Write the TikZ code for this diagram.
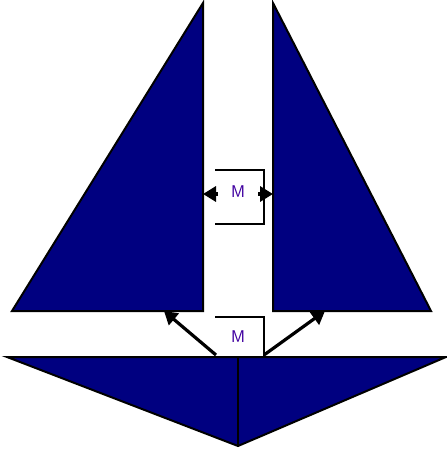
\documentclass[tikz,border=0pt]{standalone}
\usepackage{xcolor}
\usepackage{tikz}
\usetikzlibrary{arrows.meta}
\definecolor{navy}{RGB}{0,0,128}

\begin{document}
\begin{tikzpicture}[x=1pt,y=-1pt,
  sail/.style={draw=black,line width=2pt,fill=navy,line join=miter},
  brk/.style={line width=2.2pt},
  lbl/.style={font=\sffamily\fontsize{17}{17}\selectfont,text=navy!75!magenta,inner sep=1pt},
  arr/.style={-{Triangle[length=13pt,width=15pt]},line width=3.2pt}]
\useasboundingbox (0,0) rectangle (447,453);
% left and right sails
\filldraw[sail] (203,3) coordinate (lapex) -- (12,311) -- (203,311) coordinate (lfoot) -- cycle;
\filldraw[sail] (273,3) coordinate (rapex) -- (431,311) -- (273,311) coordinate (rfoot) -- cycle;
% hull
\filldraw[sail] (7,357) -- (446,357) -- (238,446) coordinate (keel) -- cycle;
\draw[line width=2pt] (238,357) coordinate (mid) -- (keel);
% upper bracket
\node[lbl] (mup) at (238,192) {M};
\draw[brk] (215,170) -- (264,170) -- (264,224) -- (215,224);
\coordinate (lhit) at (203,194);
\coordinate (rhit) at (273,194);
\draw[arr] (218,194) -- (lhit);
\draw[arr] (258,194) -- (rhit);
% lower bracket
\node[lbl] (mlow) at (238,337) {M};
\draw[brk] (215,317) -- (264,317) -- (264,357);
\coordinate (lsail) at (164,311);
\coordinate (rsail) at (325,311);
\draw[arr] (216,355) -- (lsail);
\draw[arr] (264,355) -- (rsail);
\end{tikzpicture}
\end{document}
